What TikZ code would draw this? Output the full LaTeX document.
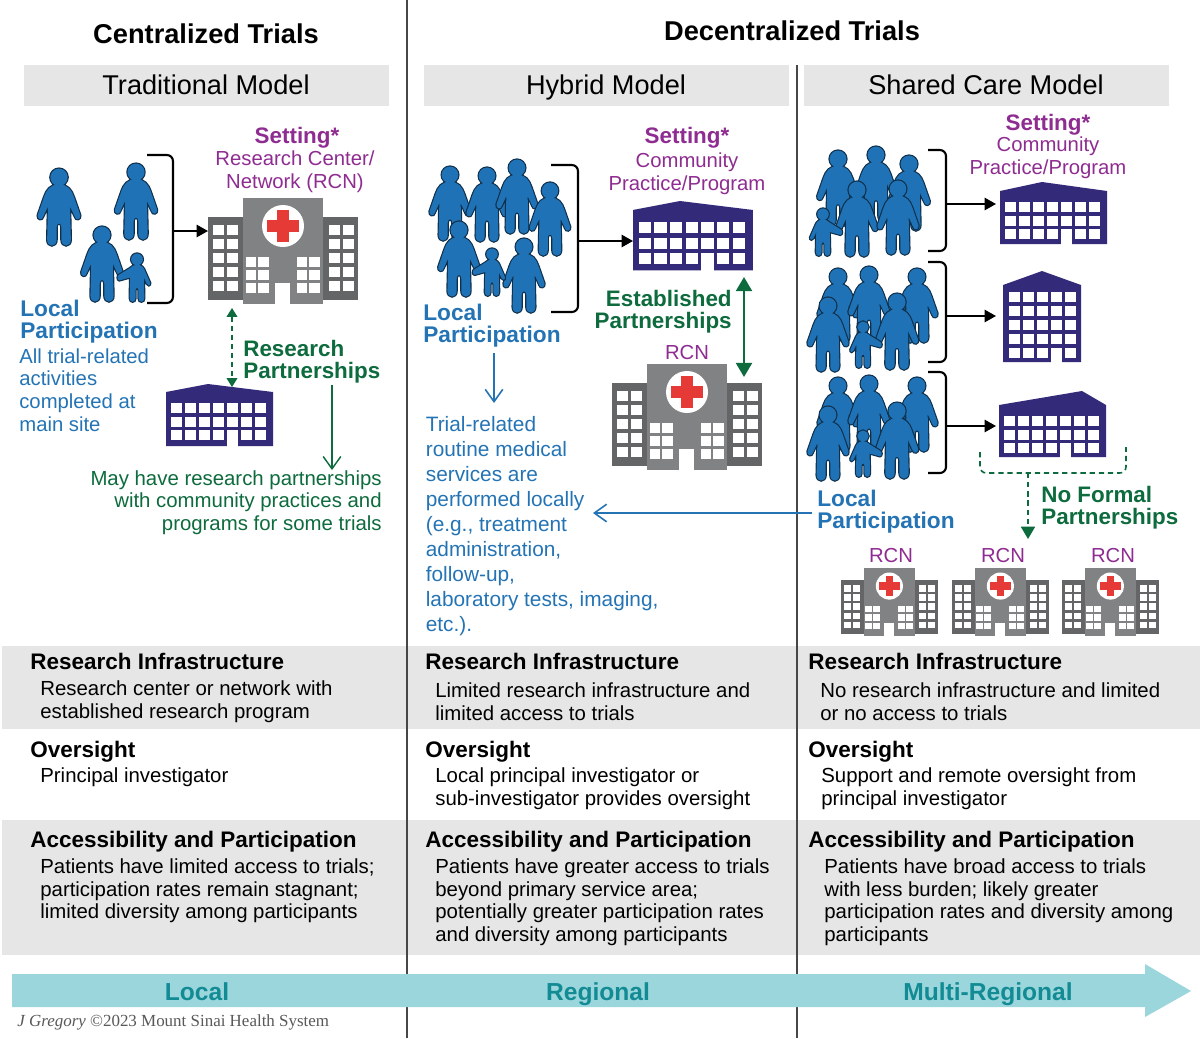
\documentclass[tikz,border=0pt]{standalone}
\usepackage{fontspec}
\usetikzlibrary{arrows.meta}
\setmainfont{Liberation Sans}
\newfontfamily\creditfont{Liberation Serif}
\definecolor{crowdblue}{HTML}{1F72B5}
\definecolor{crowdedge}{HTML}{0F2F4A}
\definecolor{textblue}{HTML}{2474B5}
\definecolor{plum}{HTML}{8F2C91}
\definecolor{pine}{HTML}{0D6B3D}
\definecolor{clinicnavy}{HTML}{332B7A}
\definecolor{wingdark}{HTML}{646567}
\definecolor{wingmid}{HTML}{808284}
\definecolor{crossred}{HTML}{E53A35}
\definecolor{bandgray}{HTML}{E6E6E6}
\definecolor{aqua}{HTML}{9BD6DC}
\definecolor{aquatext}{HTML}{128B94}
\newcommand{\adultoutline}{(0,13) circle (11) (0,22) .. controls (11,22) and (16,29) .. (19,38) -- (27,61) .. controls (28,67) and (21,68) .. (20,63) -- (14,50) -- (15,92) .. controls (15,102) and (3,102) .. (3,92) -- (3,76) .. controls (3,70) and (-3,70) .. (-3,76) -- (-3,92) .. controls (-3,102) and (-15,102) .. (-15,92) -- (-14,50) -- (-20,63) .. controls (-21,68) and (-28,67) .. (-27,61) -- (-19,38) .. controls (-16,29) and (-11,22) .. (0,22) -- cycle}
\newcommand{\kidoutline}{(0,13) circle (12) (0,24) .. controls (10,24) and (14,30) .. (17,38) -- (27,61) .. controls (28,67) and (21,68) .. (20,63) -- (14,50) -- (15,92) .. controls (15,102) and (3,102) .. (3,92) -- (3,76) .. controls (3,70) and (-3,70) .. (-3,76) -- (-3,92) .. controls (-3,102) and (-15,102) .. (-15,92) -- (-14,50) -- (-36,56) .. controls (-41,56) and (-41,45) .. (-36,44) -- (-15,31) .. controls (-10,26) and (-5,24) .. (0,24) -- cycle}
\tikzset{
    titletext/.style={font=\fontsize{15.5}{18}\selectfont\bfseries},
    headbar/.style={fill=bandgray, minimum width=7.28cm, minimum height=0.82cm, inner sep=0, text height=11pt, text depth=3.4pt, font=\fontsize{15.45}{18}\selectfont},
    settinghead/.style={text=plum, font=\fontsize{12.75}{15}\selectfont\bfseries},
    settingtext/.style={text=plum, align=center, font=\fontsize{11.55}{13}\selectfont},
    localhead/.style={text=textblue, align=left, anchor=north west, inner sep=0, font=\fontsize{12.9}{12.5}\selectfont\bfseries},
    localtext/.style={text=textblue, align=left, anchor=north west, inner sep=0, font=\fontsize{11.55}{13}\selectfont},
    routinetext/.style={text=textblue, align=left, anchor=north west, inner sep=0, font=\fontsize{11.85}{14.2}\selectfont},
    linkhead/.style={text=pine, align=left, anchor=north west, inner sep=0, font=\fontsize{12.75}{12.5}\selectfont\bfseries},
    linktext/.style={text=pine, align=right, anchor=north east, inner sep=0, font=\fontsize{11.6}{12.8}\selectfont},
    rowhead/.style={anchor=base west, inner sep=0, font=\fontsize{12.8}{15}\selectfont\bfseries},
    rowtext/.style={align=left, anchor=north west, inner sep=0, font=\fontsize{11.6}{13.05}\selectfont},
    spantext/.style={anchor=base, text=aquatext, font=\fontsize{14}{16}\selectfont\bfseries},
    sitebox/.style={inner sep=0, outer sep=0},
    bracket/.style={line width=1.2pt, rounded corners=3.5pt},
    siteline/.style={line width=1.1pt, -{Triangle[length=6.5pt,width=7pt]}},
    blueline/.style={draw=textblue, line width=0.9pt, -{Straight Barb[length=7pt,width=10pt]}},
    greenline/.style={draw=pine, line width=0.8pt, -{Straight Barb[length=7pt,width=10pt]}},
    dashline/.style={draw=pine, line width=0.9pt, dash pattern=on 3pt off 2.2pt},
    divider/.style={draw=black!72, line width=0.9pt},
    pics/person/.style={code={
        \draw [crowdedge, line width=1.3pt] \adultoutline;
        \fill [crowdblue] \adultoutline;
    }},
    pics/kid/.style={code={
        \draw [crowdedge, line width=1.3pt] \kidoutline;
        \fill [crowdblue] \kidoutline;
    }},
    pics/hospital/.style={code={
        \fill [wingdark] (0,19) rectangle (150,102);
        \fill [wingmid] (35,0) rectangle (115,106);
        \fill [white] (67,85) rectangle (82,106);
        \fill [white] (75,28) circle (21);
        \fill [crossred] (59,22) rectangle (91,34);
        \fill [crossred] (69,12) rectangle (81,44);
        \foreach \wx in {5.3,19,121,135}
            \foreach \wy in {27,41,55,69,83}
                \fill [white] (\wx,\wy) rectangle +(10.7,10);
        \foreach \wx in {37.7,50.3,88.7,101.3}
            \foreach \wy in {58.7,72,85.3}
                \fill [white] (\wx,\wy) rectangle +(10.3,10);
    }},
    pics/wideclinic/.style args={#1/#2/#3}{code={
        \fill [clinicnavy] (0,#2) -- (#1,0) -- (107,#2) -- (107,#3) -- (0,#3) -- cycle;
        \foreach \wx in {0,...,6}
            \foreach \wy in {0,1,2}
                \fill [white] (5+14*\wx,#2+11+13.7*\wy) rectangle +(11,10);
        \fill [white] (61,#2+38.4) rectangle (72,#3+0.5);
    }},
    pics/tallclinic/.style={code={
        \fill [clinicnavy] (0,14) -- (39,0) -- (78,14) -- (78,91) -- (0,91) -- cycle;
        \foreach \wx in {0,...,4}
            \foreach \wy in {0,...,4}
                \fill [white] (5.7+14*\wx,21+14*\wy) rectangle +(11,10);
        \fill [white] (47.7,77) rectangle (58.7,91.5);
    }},
}
\begin{document}
\begin{tikzpicture}[x=0.02cm, y=-0.02cm]
        \useasboundingbox (0,0) rectangle (1200,1038);
        \fill [white] (0,0) rectangle (1200,1038);
        % bands and dividers
        \fill [bandgray] (2,646) rectangle (1200,729);
        \fill [bandgray] (2,820) rectangle (1200,955);
        \draw [divider] (407,0) -- (407,1038);
        \draw [divider] (797,65) -- (797,1038);
        \node [titletext] (centralized) at (206,34) {Centralized Trials};
        \node [titletext] (decentralized) at (792,31) {Decentralized Trials};
        \fill [bandgray] (24,65) rectangle (388.5,106);
        \fill [bandgray] (424,65) rectangle (788.5,106);
        \fill [bandgray] (804,65) rectangle (1168.5,106);
        \node [headbar, fill=none] (traditional) at (206,87.5) {Traditional Model};
        \node [headbar, fill=none] (hybrid) at (606,87.5) {Hybrid Model};
        \node [headbar, fill=none] (shared) at (986,87.5) {Shared Care Model};
        % traditional model
        \foreach \px/\py/\ph in {59/167/79, 136/162/78, 102/225/77}
            \pic [scale=\ph/100] at (\px,\py) {person};
        \pic [scale=0.49] at (137,253) {kid};
        \node [settinghead] (settingA) at (297,137.5) {Setting*};
        \node [settingtext] (centerA) at (295,171.5) {Research Center/\\Network (RCN)};
        \node [sitebox, minimum width=3cm, minimum height=2.12cm] (hospA) at (283,251) {};
        \pic at (hospA.north west) {hospital};
        \node [sitebox, minimum width=2.14cm, minimum height=1.24cm] (clinicA) at (219.5,415) {};
        \pic at (clinicA.north west) {wideclinic=42/8/62};
        \draw [bracket] (147,155) -- (173,155) -- (173,303) -- (147,303);
        \coordinate (brkA) at (173,231);
        \draw [siteline] (brkA) -- (hospA.west |- brkA);
        \coordinate (partnerA) at (232,308);
        \draw [dashline, {Triangle[length=5pt,width=6pt]}-{Triangle[length=5pt,width=6pt]}, shorten >=-1.7pt] (partnerA) -- (partnerA |- clinicA.north);
        \node [localhead] (localA) at (20,300) {Local\\Participation};
        \node [localtext] (localsubA) at (19,348) {All trial-related\\activities\\completed at\\main site};
        \node [linkhead] (researchA) at (243,339.5) {Research\\Partnerships};
        \coordinate (partnerdown) at (332,385);
        \node [linktext] (partnerA note) at (382,470) {May have research partnerships\\with community practices and\\programs for some trials};
        \draw [greenline] (partnerdown) -- (partnerdown |- partnerA note.north);
        % hybrid model
        \foreach \px/\py/\ph in {450/165/76, 487/166/76, 517/158/76, 550/181/75, 459/220/77, 524/237/76}
            \pic [scale=\ph/100] at (\px,\py) {person};
        \pic [scale=0.48] at (492,248) {kid};
        \node [settinghead] (settingB) at (687,137.5) {Setting*};
        \node [settingtext] (communityB) at (687,173.5) {Community\\Practice/Program};
        \node [sitebox, minimum width=2.38cm, minimum height=1.4cm] (clinicB) at (692.5,236) {};
        \pic [scale=1.12] at (clinicB.north west) {wideclinic=42/8/62};
        \draw [bracket] (551,165) -- (578,165) -- (578,312) -- (551,312);
        \coordinate (brkB) at (578,241);
        \draw [siteline] (brkB) -- (clinicB.west |- brkB);
        \node [linkhead, align=right, anchor=north east] (established) at (732,290) {Established\\Partnerships};
        \node [settingtext] (rcnB) at (687,352.5) {RCN};
        \node [sitebox, minimum width=3cm, minimum height=2.12cm] (hospB) at (687,417) {};
        \pic at (hospB.north west) {hospital};
        \coordinate (estA) at (744,277);
        \coordinate (estB) at (744,377);
        \draw [draw=pine, line width=1.5pt, {Triangle[length=8pt,width=9pt]}-{Triangle[length=8pt,width=9pt]}] (estA) -- (estB);
        \node [localhead] (localB) at (423,303.5) {Local\\Participation};
        \node [routinetext] (routine) at (425.5,416) {Trial-related\\routine medical\\services are\\performed locally\\(e.g., treatment\\administration,\\follow-up,\\laboratory tests, imaging,\\etc.).};
        \coordinate (localdown) at (494,353);
        \coordinate (routinetop) at (494,403);
        \draw [blueline] (localdown) -- (routinetop);
        % shared care model
        \foreach \px/\py/\ph in {838/149/77, 876/145/77, 909/154/77, 857/180/77, 898/179/76}
            \pic [scale=\ph/100] at (\px,\py) {person};
        \pic [scale=0.48, xscale=-1] at (823,208) {kid};
        \foreach \gy in {0,109} {
            \foreach \px/\py/\ph in {838/267/76, 869/265/76, 917/267/76, 828/296/76, 897/292/78}
                \pic [scale=\ph/100] at (\px,\py+\gy) {person};
            \pic [scale=0.47, xscale=-1] at (863,321+\gy) {kid};
        }
        \node [settinghead] (settingC) at (1048,124.5) {Setting*};
        \node [settingtext] (communityC) at (1048,157.5) {Community\\Practice/Program};
        \node [sitebox, minimum width=2.14cm, minimum height=1.24cm] (clinicC) at (1053.5,213) {};
        \pic at (clinicC.north west) {wideclinic=42/9/62};
        \node [sitebox, minimum width=1.56cm, minimum height=1.82cm] (clinicD) at (1042,316.5) {};
        \pic at (clinicD.north west) {tallclinic};
        \node [sitebox, minimum width=2.14cm, minimum height=1.32cm] (clinicE) at (1052.5,424) {};
        \pic at (clinicE.north west) {wideclinic=83/14/66};
        \foreach \ltop/\lbot/\lmid in {150/251/204, 262/362/316, 372/473/426} {
            \draw [bracket] (928,\ltop) -- (946,\ltop) -- (946,\lbot) -- (928,\lbot);
            \coordinate (brk) at (946,\lmid);
            \draw [siteline] (brk) -- (996,\lmid);
        }
        \draw [dashline, rounded corners=3.5pt] (980,452) -- (980,473) -- (1126,473) -- (1126,447);
        \coordinate (nopartner) at (1028,473);
        \coordinate (rcntop) at (1028,539);
        \draw [dashline, -{Triangle[length=7pt,width=8pt]}] (nopartner) -- (rcntop);
        \node [linkhead] (noformal) at (1041,486) {No Formal\\Partnerships};
        \node [localhead] (localC) at (817,489.5) {Local\\Participation};
        \coordinate (localleft) at (812,513);
        \coordinate (routineside) at (593,513);
        \draw [blueline] (localleft) -- (routineside);
        \foreach \rx/\rlx/\rname in {841/891/C, 952/1003/D, 1062/1113/E} {
            \node [settingtext] (rcn\rname) at (\rlx,555.5) {RCN};
            \pic [scale=0.645] at (\rx,568) {hospital};
        }
        % rows
        \foreach \rowx/\rowname in {30/A, 425/B, 808/C} {
            \node [rowhead] (infra\rowname) at (\rowx,669) {Research Infrastructure};
            \node [rowhead] (over\rowname) at (\rowx,757) {Oversight};
            \node [rowhead] (access\rowname) at (\rowx,847) {Accessibility and Participation};
        }
        \node [rowtext] (infratextA) at (40,680) {Research center or network with\\established research program};
        \node [rowtext] (infratextB) at (435,682) {Limited research infrastructure and\\limited access to trials};
        \node [rowtext] (infratextC) at (820,682) {No research infrastructure and limited\\or no access to trials};
        \node [rowtext] (overtextA) at (40,767) {Principal investigator};
        \node [rowtext] (overtextB) at (435,767) {Local principal investigator or\\sub-investigator provides oversight};
        \node [rowtext] (overtextC) at (821,767) {Support and remote oversight from\\principal investigator};
        \node [rowtext] (accesstextA) at (40,858) {Patients have limited access to trials;\\participation rates remain stagnant;\\limited diversity among participants};
        \node [rowtext] (accesstextB) at (435,858) {Patients have greater access to trials\\beyond primary service area;\\potentially greater participation rates\\and diversity among participants};
        \node [rowtext] (accesstextC) at (824,858) {Patients have broad access to trials\\with less burden; likely greater\\participation rates and diversity among\\participants};
        % span arrow
        \fill [aqua] (12,974) -- (1145,974) -- (1145,964) -- (1191,991) -- (1145,1017) -- (1145,1007) -- (12,1007) -- cycle;
        \node [spantext] (spanlocal) at (197,1000) {Local};
        \node [spantext] (spanregional) at (598,1000) {Regional};
        \node [spantext] (spanmulti) at (988,1000) {Multi-Regional};
        \node [anchor=base west, inner sep=0, text=black!65, font=\fontsize{9.65}{11}\selectfont\creditfont] (credit) at (17,1026) {\textit{J Gregory} ©2023 Mount Sinai Health System};
\end{tikzpicture}
\end{document}
